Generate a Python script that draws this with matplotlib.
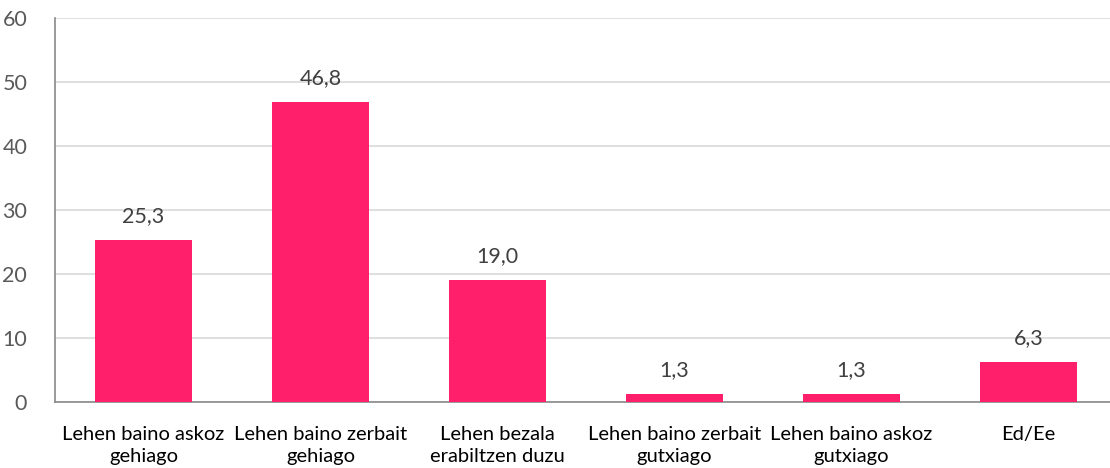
import matplotlib
matplotlib.use("Agg")
import matplotlib.pyplot as plt

categories = ["Lehen baino askoz\ngehiago", "Lehen baino zerbait\ngehiago",
              "Lehen bezala\nerabiltzen duzu", "Lehen baino zerbait\ngutxiago",
              "Lehen baino askoz\ngutxiago", "Ed/Ee"]
values = [25.3, 46.8, 19.0, 1.3, 1.3, 6.3]
yticks = [0, 10, 20, 30, 40, 50, 60]

plt.rcParams["font.family"] = ["Lato", "DejaVu Sans"]

fig = plt.figure(figsize=(11.10, 4.68), dpi=100)
ax = fig.add_axes([55 / 1110, 66 / 468, 1062 / 1110, 384 / 468])

x = range(len(categories))
ax.bar(x, values, width=0.55, color="#FF1F6B", zorder=3)
for xi, v in zip(x, values):
    ax.text(xi, v + 2.2, f"{v:.1f}".replace(".", ","), ha="center", va="bottom",
            fontsize=15.5, color="#404040", zorder=4)

ax.set_xlim(-0.5, 5.5)
ax.set_ylim(0, 60)
ax.set_yticks(yticks)
ax.set_xticks(list(x))
ax.set_xticklabels(categories, fontsize=14.5, color="black", linespacing=1.4)
ax.tick_params(axis="y", labelsize=15.5, labelcolor="#595959", length=0, pad=20)
ax.tick_params(axis="x", length=0, pad=17)
ax.grid(axis="y", color="#D9D9D9", linewidth=1.2, zorder=0)
for s in ["top", "right"]:
    ax.spines[s].set_visible(False)
ax.spines["left"].set_color("#898989")
ax.spines["bottom"].set_color("#898989")
ax.spines["left"].set_linewidth(1.2)
ax.spines["bottom"].set_linewidth(1.2)

fig.savefig("out.png", dpi=100)
